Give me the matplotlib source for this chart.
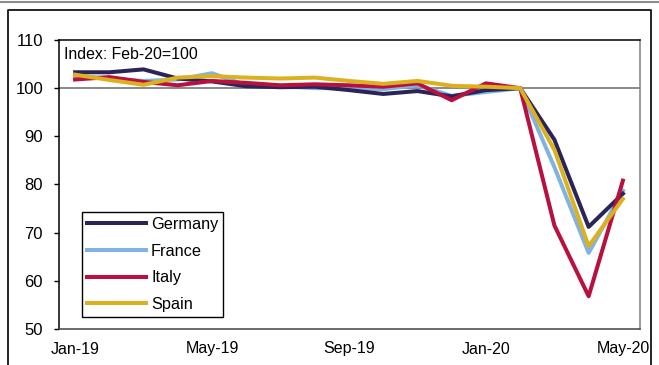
import numpy as np
import matplotlib.pyplot as plt
from matplotlib.lines import Line2D

plt.rcParams['font.family'] = ['Liberation Sans', 'DejaVu Sans']

# Dane: indeks, luty 2020 = 100 (Jan-19 .. May-20)
months = ['Jan-19', 'Feb-19', 'Mar-19', 'Apr-19', 'May-19', 'Jun-19', 'Jul-19', 'Aug-19',
          'Sep-19', 'Oct-19', 'Nov-19', 'Dec-19', 'Jan-20', 'Feb-20', 'Mar-20', 'Apr-20', 'May-20']
germany = [103.3, 103.3, 103.9, 102.0, 101.4, 100.4, 100.2, 100.3, 99.6, 98.8, 99.4, 98.3,
           99.6, 100.0, 89.3, 71.2, 78.1]
france = [102.6, 102.0, 101.5, 101.8, 103.1, 100.6, 100.4, 100.0, 100.0, 99.8, 100.6, 98.4,
          99.2, 100.0, 83.6, 65.8, 78.7]
italy = [101.8, 102.3, 101.3, 100.6, 101.5, 101.1, 100.6, 100.8, 100.6, 100.3, 101.0, 97.5,
         101.0, 100.0, 71.5, 56.8, 80.8]
spain = [102.8, 101.7, 100.7, 102.2, 102.5, 102.2, 102.0, 102.2, 101.5, 100.9, 101.5, 100.5,
         100.3, 100.0, 87.2, 67.2, 77.0]

tick_idx = [0, 4, 8, 12, 16]
x = np.arange(len(months))

fig = plt.figure(figsize=(6.59, 3.65), dpi=100)
ax = fig.add_axes([59 / 659, 1 - 329 / 365, 581 / 659, 289 / 365])

# ramka wokół wykresu + szara linia u góry
fig.add_artist(Line2D([0, 1], [1 - 1.5 / 365, 1 - 1.5 / 365], color='#8c8c8c', lw=1.5))
fig.add_artist(Line2D([8 / 659, 8 / 659, 651 / 659, 651 / 659],
                      [0, 1 - 10 / 365, 1 - 10 / 365, 0], color='black', lw=1.2))

ax.axhline(100, color='#808080', lw=1.3, zorder=1)

lw = 2.9
ax.plot(x, germany, color='#2b2458', lw=lw, label='Germany', zorder=3)
ax.plot(x, france, color='#80b3e2', lw=lw, label='France', zorder=2)
ax.plot(x, italy, color='#b8113f', lw=lw, label='Italy', zorder=4)
ax.plot(x, spain, color='#dbb120', lw=lw, label='Spain', zorder=5)

ax.set_xlim(-0.47, 16.5)
ax.set_ylim(50, 110)
ax.set_yticks(range(50, 111, 10))
ax.set_xticks(tick_idx)
ax.set_xticklabels([months[i] for i in tick_idx])
ax.tick_params(axis='y', length=3.5, width=1, labelsize=12, pad=8)
ax.tick_params(axis='x', length=0, labelsize=11.5, pad=9)

for s in ['top', 'left']:
    ax.spines[s].set_color('black')
ax.spines['bottom'].set_color('#444444')
ax.spines['right'].set_color('#808080')
for s in ax.spines.values():
    s.set_linewidth(1.1)

ax.text(0.008, 0.975, 'Index: Feb-20=100', transform=ax.transAxes, fontsize=11.4,
        va='top', ha='left')

leg = ax.legend(loc='lower left', bbox_to_anchor=(0.0396, 0.0415), borderaxespad=0,
                fontsize=11.7, handlelength=3.65, handletextpad=0.3, labelspacing=0.72,
                borderpad=0.3, fancybox=False, framealpha=1)
leg.get_frame().set_edgecolor('black')
leg.get_frame().set_linewidth(1.0)

fig.savefig('out.png', dpi=100)
